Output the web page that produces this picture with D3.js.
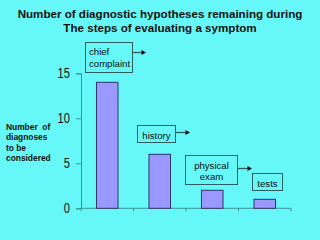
<!DOCTYPE html>
<html><head><meta charset="utf-8">
<script src="https://cdn.jsdelivr.net/npm/d3@7"></script>
<style>html,body{margin:0;padding:0;background:#66F8F8;}svg{display:block;}</style>
</head><body>
<svg id="c" width="320" height="240"></svg>
<script>
const categories = ["chief complaint", "history", "physical exam", "tests"];
const values = [14, 6, 2, 1];
const yTicks = [0, 5, 10, 15];
const titleLines = ["Number of diagnostic hypotheses remaining during", "The steps of evaluating a symptom"];
const yLabelLines = ["Number  of", "diagnoses", "to be", "considered"];
const stepLabels = [["chief", "complaint"], ["history"], ["physical", "exam"], ["tests"]];

const svg = d3.select("#c");
svg.append("rect").attr("width", 320).attr("height", 240).attr("fill", "#66F8F8");

const x = d3.scaleBand().domain(categories).range([81, 291]).paddingInner(0.59).paddingOuter(0.295);
const y = d3.scaleLinear().domain([0, 15]).range([208.3, 73.3]);
const axisColor = "#3A9898";

// title
svg.append("g").selectAll("text").data(titleLines).join("text")
  .attr("x", 160).attr("y", (d, i) => 18 + i * 14)
  .attr("text-anchor", "middle")
  .attr("font-family", "Liberation Sans, Arial, sans-serif")
  .attr("font-weight", "bold").attr("font-size", 11.6).attr("fill", "#111")
  .text(d => d);

// y label
svg.append("g").selectAll("text").data(yLabelLines).join("text")
  .attr("x", 6).attr("y", (d, i) => 130 + i * 10.4)
  .attr("font-family", "Liberation Sans, Arial, sans-serif")
  .attr("font-weight", "bold").attr("font-size", 8.4).attr("fill", "#111")
  .attr("xml:space", "preserve")
  .text(d => d);

// y axis
const yAxis = svg.append("g").attr("transform", "translate(81,0)")
  .call(d3.axisLeft(y).tickValues(yTicks).tickSize(5).tickPadding(6));
yAxis.select(".domain").attr("stroke", axisColor);
yAxis.selectAll(".tick line").attr("stroke", axisColor);
yAxis.selectAll(".tick text")
  .attr("font-family", "Liberation Sans, Arial, sans-serif")
  .attr("font-size", 14).attr("fill", "#111")
  .attr("textLength", d => String(d).length * 6.2)
  .attr("lengthAdjust", "spacingAndGlyphs");

// x axis
const xg = svg.append("g").attr("transform", `translate(0,${y(0)})`);
xg.append("line").attr("x1", 81).attr("x2", 291).attr("stroke", axisColor);
const bounds = d3.range(categories.length + 1).map(i => 81 + i * x.step());
xg.selectAll("line.t").data(bounds).join("line").attr("class", "t")
  .attr("x1", d => d).attr("x2", d => d).attr("y1", 0).attr("y2", 3).attr("stroke", axisColor);

// bars
svg.append("g").selectAll("rect").data(values).join("rect")
  .attr("x", (d, i) => x(categories[i]))
  .attr("y", d => y(d))
  .attr("width", x.bandwidth())
  .attr("height", d => y(0) - y(d))
  .attr("fill", "#9999FF").attr("stroke", "#333366").attr("stroke-width", 1);

// annotation boxes with arrows
const boxLayout = [
  {x: 85.5, y: 42.5, w: 47, h: 30, arrowY: 52.5, arrowEnd: 146, lineY: [55, 67]},
  {x: 137.5, y: 125.5, w: 38, h: 17, arrowY: 132.5, arrowEnd: 190, lineY: [139]},
  {x: 185.5, y: 155.5, w: 52, h: 29, arrowY: 168.5, arrowEnd: 252, lineY: [168.5, 180]},
  {x: 252.5, y: 173.5, w: 30, h: 17, arrowY: null, arrowEnd: null, lineY: [187]}
];
const ann = svg.append("g");
boxLayout.forEach((b, i) => {
  ann.append("rect").attr("x", b.x).attr("y", b.y).attr("width", b.w).attr("height", b.h)
    .attr("fill", "none").attr("stroke", "#2E5E5E").attr("stroke-width", 1);
  stepLabels[i].forEach((t, j) => {
    ann.append("text")
      .attr("x", i === 0 ? b.x + 3.5 : b.x + b.w / 2)
      .attr("y", b.lineY[j])
      .attr("text-anchor", i === 0 ? "start" : "middle")
      .attr("font-family", "Liberation Sans, Arial, sans-serif")
      .attr("font-size", 9.6).attr("fill", "#111").text(t);
  });
  if (b.arrowY !== null) {
    ann.append("line").attr("x1", b.x + b.w).attr("x2", b.arrowEnd - 3)
      .attr("y1", b.arrowY).attr("y2", b.arrowY).attr("stroke", "#2E5E5E").attr("stroke-width", 1.3);
    ann.append("path")
      .attr("d", `M${b.arrowEnd},${b.arrowY} L${b.arrowEnd - 4.5},${b.arrowY - 2.5} L${b.arrowEnd - 4.5},${b.arrowY + 2.5} Z`)
      .attr("fill", "#111");
  }
});
</script>
</body></html>
